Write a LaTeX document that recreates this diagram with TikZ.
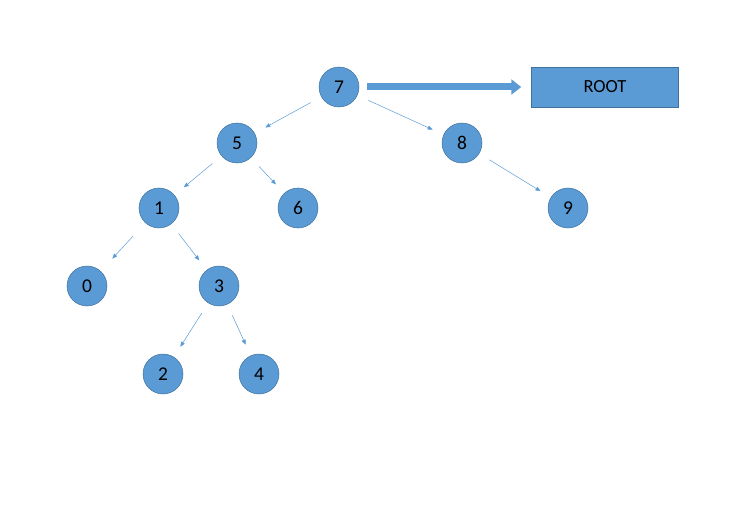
\documentclass[tikz,border=0pt]{standalone}
\usepackage{fontspec}
\setmainfont{Carlito}
\usetikzlibrary{arrows.meta}

\definecolor{treeblue}{HTML}{5B9BD5}
\definecolor{treeedge}{HTML}{41719C}

\tikzset{
  treenode/.style={circle, fill=treeblue, draw=treeedge, line width=0.5pt,
    minimum size=40pt, inner sep=0pt, font=\fontsize{19.5}{22}\selectfont},
  treelink/.style={draw=treeblue, line width=0.5pt,
    -{Triangle[length=5pt,width=4pt]}, shorten <=12pt, shorten >=12pt},
}

\begin{document}
\begin{tikzpicture}[x=1pt, y=-1pt]
      \useasboundingbox (0,0) rectangle (745,519);
      \node[treenode] (n7) at (339, 87) {7};
      \node[treenode] (n5) at (237,143) {5};
      \node[treenode] (n8) at (462,143) {8};
      \node[treenode] (n1) at (159,208) {1};
      \node[treenode] (n6) at (298,208) {6};
      \node[treenode] (n9) at (568,208) {9};
      \node[treenode] (n0) at ( 87,286) {0};
      \node[treenode] (n3) at (219,286) {3};
      \node[treenode] (n2) at (163,374) {2};
      \node[treenode] (n4) at (259,374) {4};
      \node[rectangle, fill=treeblue, draw=treeedge, line width=0.5pt,
        minimum width=147pt, minimum height=40pt,
        font=\fontsize{18.5}{21}\selectfont] (root) at (605,87) {ROOT};
      \draw[treelink] (n7) -- (n5);
      \draw[treelink] (n7) -- (n8);
      \draw[treelink] (n5) -- (n1);
      \draw[treelink] (n5) -- (n6);
      \draw[treelink] (n8) -- (n9);
      \draw[treelink, shorten <=18pt, shorten >=17pt] (n1) -- (n0);
      \draw[treelink] (n1) -- (n3);
      \draw[treelink] (n3) -- (n2);
      \draw[treelink] (n3) -- (n4);
      \draw[treeblue, line width=7pt, shorten <=8pt, shorten >=10pt,
        -{Triangle[length=10pt,width=15pt]}] (n7) -- (root);
\end{tikzpicture}
\end{document}
